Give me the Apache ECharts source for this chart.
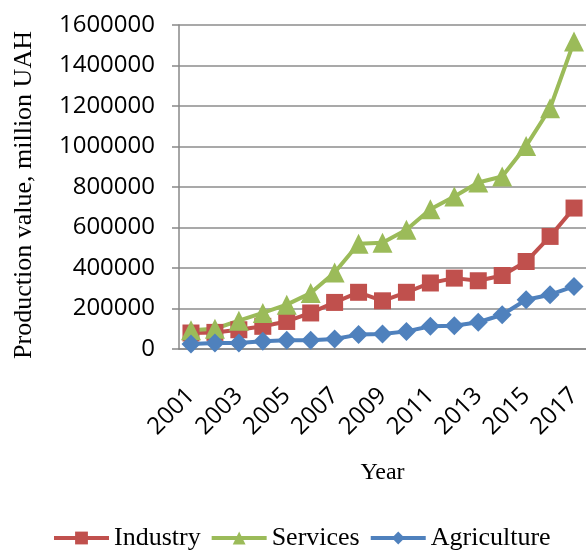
<!DOCTYPE html>
<html>
<head>
<meta charset="utf-8">
<script src="https://cdn.jsdelivr.net/npm/echarts@6/dist/echarts.min.js"></script>
<style>html,body{margin:0;padding:0;background:#fff;}#c{width:586px;height:554px;}</style>
</head>
<body>
<div id="c"></div>
<script>
const years = ['2001','2002','2003','2004','2005','2006','2007','2008','2009','2010','2011','2012','2013','2014','2015','2016','2017'];
const industry = [79000, 82000, 95000, 112000, 136000, 178000, 230000, 280000, 238000, 280000, 326000, 350000, 337000, 363000, 432000, 556000, 696000];
const services = [92000, 100000, 140000, 178000, 219000, 276000, 378000, 520000, 525000, 589000, 690000, 753000, 822000, 852000, 1003000, 1189000, 1518000];
const agriculture = [25000, 30000, 30000, 38000, 43000, 43000, 49000, 71000, 74000, 87000, 112000, 115000, 132000, 169000, 243000, 268000, 309000];
const yTicks = [0, 200000, 400000, 600000, 800000, 1000000, 1200000, 1400000, 1600000];

const chart = echarts.init(document.getElementById('c'), null, {renderer: 'canvas'});
const serif = 'Liberation Serif';
const sans = 'Open Sans';
function mk(name, data, color, symbol, size) {
  return {
    name: name, type: 'line', data: data,
    symbol: symbol, symbolSize: size, showAllSymbol: true,
    lineStyle: {color: color, width: 4},
    itemStyle: {color: color},
    animation: false
  };
}
chart.setOption({
  animation: false,
  grid: {left: 179, top: 25, bottom: 205, width: 412, containLabel: false},
  legend: {
    top: 525, left: 52, padding: 0,
    itemWidth: 55, itemHeight: 16, itemGap: 9,
    lineStyle: {width: 4},
    textStyle: {fontFamily: serif, fontSize: 26, color: '#000'},
    data: ['Industry', 'Services', 'Agriculture']
  },
  xAxis: {
    type: 'category', data: years, boundaryGap: true,
    name: 'Year', nameLocation: 'middle', nameGap: 112,
    nameTextStyle: {fontFamily: serif, fontSize: 24, color: '#000'},
    axisLine: {lineStyle: {color: '#888', width: 1.5}},
    axisTick: {show: false},
    axisLabel: {interval: 1, rotate: 45, margin: 43, fontFamily: sans, fontSize: 24, color: '#000'}
  },
  yAxis: {
    type: 'value', min: 0, max: 1600000, interval: 200000,
    name: 'Production value, million UAH', nameLocation: 'middle', nameGap: 142,
    nameTextStyle: {fontFamily: serif, fontSize: 26, color: '#000', padding: [0, 16, 0, 0]},
    axisLine: {show: true, lineStyle: {color: '#888', width: 1.5}},
    axisTick: {show: true, inside: false, length: 7, lineStyle: {color: '#888', width: 1.5}},
    axisLabel: {margin: 24, fontFamily: sans, fontSize: 24, color: '#000',
      formatter: function (v) { return yTicks.indexOf(v) >= 0 ? String(v) : ''; }},
    splitLine: {lineStyle: {color: '#8c8c8c', width: 1.5}}
  },
  series: [
    mk('Industry', industry, '#C0504D', 'rect', 17),
    mk('Services', services, '#9BBB59', 'triangle', 20),
    mk('Agriculture', agriculture, '#4F81BD', 'diamond', 19)
  ]
});
</script>
</body>
</html>
